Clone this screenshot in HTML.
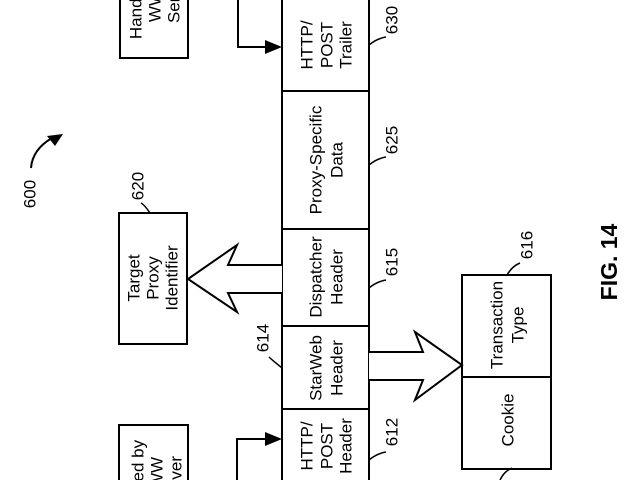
<!DOCTYPE html>
<html><head><meta charset="utf-8"><style>
html,body{margin:0;padding:0;background:#fff;width:640px;height:480px;overflow:hidden}
svg{display:block}
svg text{font-family:"Liberation Sans",sans-serif;fill:#000}
.m{font-size:17px}
.n{font-size:17px}
.f{font-size:23px;font-weight:bold}
</style></head><body>
<svg width="640" height="480" viewBox="0 0 640 480" xmlns="http://www.w3.org/2000/svg">
<g fill="none" stroke="#000" stroke-width="2">
<path d="M282,0 L282,480 M369,0 L369,480"/>
<line x1="282" y1="91" x2="369" y2="91"/>
<line x1="282" y1="229" x2="369" y2="229"/>
<line x1="282" y1="326" x2="369" y2="326"/>
<line x1="282" y1="409" x2="369" y2="409"/>
<rect x="119" y="213" width="68" height="131"/>
<path d="M120,0 L120,58 L188,58 L188,0"/>
<path d="M119,480 L119,425 L188,425 L188,480"/>
<rect x="462" y="275" width="89" height="194"/>
<line x1="462" y1="377" x2="551" y2="377"/>
<path d="M282,265 L228,265 L237,245 L188,279 L237,312 L228,293 L282,293" fill="#fff"/>
<path d="M369,352 L423,352 L415,332 L462,365 L415,400 L423,380 L369,380" fill="#fff"/>
<polyline points="238,0 238,47 268,47"/>
<polyline points="237,480 237,439 268,439"/>
<path d="M369,45 C375,40 380,38 386,37" stroke-width="1.5"/>
<path d="M369,165 C375,160 380,158 386,157" stroke-width="1.5"/>
<path d="M369,288 C375,283 380,281 386,280" stroke-width="1.5"/>
<path d="M369,460 C375,455 380,453 386,452" stroke-width="1.5"/>
<path d="M282,368 C276,363 272,360 269,357" stroke-width="1.5"/>
<path d="M150,213 C146,207 143,204 141,203" stroke-width="1.5"/>
<path d="M507,275 C511,268 515,265 520,263" stroke-width="1.5"/>
<path d="M500,480 C504,472 508,470 512,468" stroke-width="1.5"/>
<path d="M31,168 C32,155 40,145 52,138" stroke-width="2"/>
</g>
<g fill="#000">
<polygon points="282,47 265,40 265,54"/>
<polygon points="282,439 265,432 265,446"/>
<polygon points="63,134 47,136 55,146"/>
</g>
<g text-anchor="middle" dominant-baseline="central">
<text class="m" transform="translate(307,45) rotate(-90)">HTTP/</text>
<text class="m" transform="translate(327,45) rotate(-90)">POST</text>
<text class="m" transform="translate(346,45) rotate(-90)">Trailer</text>
<text class="m" transform="translate(316,160) rotate(-90)">Proxy-Specific</text>
<text class="m" transform="translate(337,160) rotate(-90)">Data</text>
<text class="m" transform="translate(316,277) rotate(-90)">Dispatcher</text>
<text class="m" transform="translate(337,277) rotate(-90)">Header</text>
<text class="m" transform="translate(316,368) rotate(-90)">StarWeb</text>
<text class="m" transform="translate(337,368) rotate(-90)">Header</text>
<text class="m" transform="translate(307,446) rotate(-90)">HTTP/</text>
<text class="m" transform="translate(327,446) rotate(-90)">POST</text>
<text class="m" transform="translate(346,446) rotate(-90)">Header</text>
<text class="m" transform="translate(134,278) rotate(-90)">Target</text>
<text class="m" transform="translate(153,278) rotate(-90)">Proxy</text>
<text class="m" transform="translate(172,278) rotate(-90)">Identifier</text>
<text class="m" transform="translate(136,-2) rotate(-90)">Handed by</text>
<text class="m" transform="translate(155,-2) rotate(-90)">WWW</text>
<text class="m" transform="translate(174,-2) rotate(-90)">Server</text>
<text class="m" transform="translate(138,481) rotate(-90)">Handed by</text>
<text class="m" transform="translate(157,481) rotate(-90)">WWW</text>
<text class="m" transform="translate(176,481) rotate(-90)">Server</text>
<text class="m" transform="translate(497,325) rotate(-90)">Transaction</text>
<text class="m" transform="translate(518,325) rotate(-90)">Type</text>
<text class="m" transform="translate(508,420) rotate(-90)">Cookie</text>
<text class="n" transform="translate(392,20) rotate(-90)">630</text>
<text class="n" transform="translate(392,140) rotate(-90)">625</text>
<text class="n" transform="translate(392,262) rotate(-90)">615</text>
<text class="n" transform="translate(392,432) rotate(-90)">612</text>
<text class="n" transform="translate(263,338) rotate(-90)">614</text>
<text class="n" transform="translate(138,186) rotate(-90)">620</text>
<text class="n" transform="translate(527,245) rotate(-90)">616</text>
<text class="n" transform="translate(30,194) rotate(-90)">600</text>
<text class="f" transform="translate(609,262) rotate(-90)">FIG. 14</text>
</g>
</svg>
</body></html>
